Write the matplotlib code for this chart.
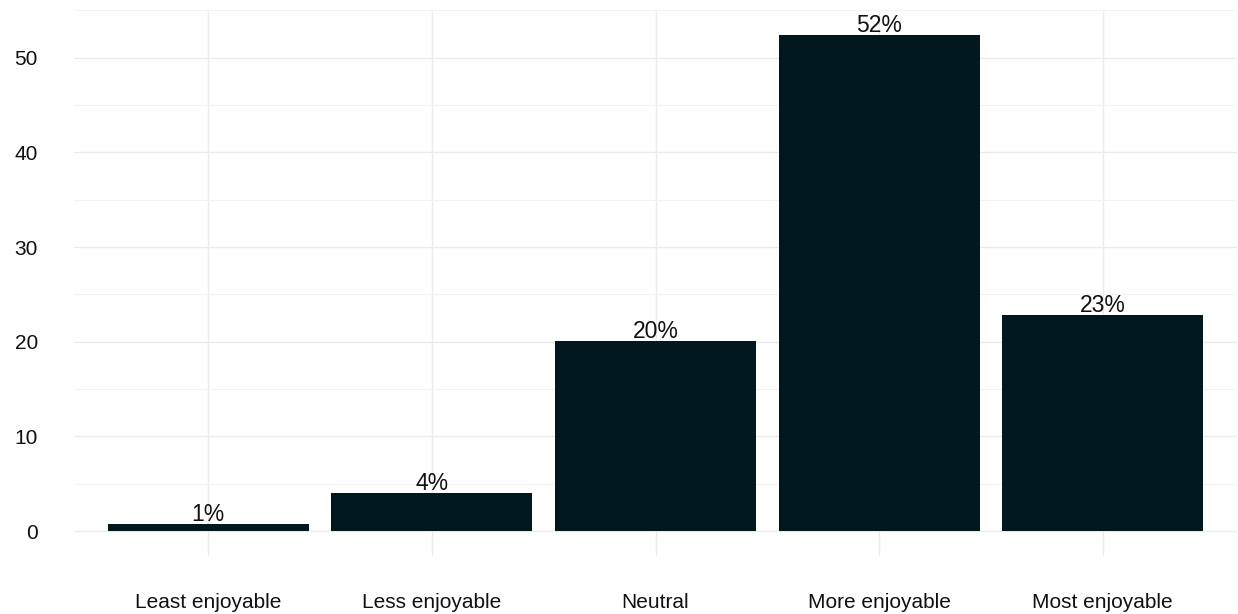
import numpy as np
import matplotlib.pyplot as plt
from matplotlib.ticker import MultipleLocator

categories = ['Least enjoyable', 'Less enjoyable', 'Neutral', 'More enjoyable', 'Most enjoyable']
percent = [0.74, 4.0, 20.1, 52.4, 22.8]
labels = ['1%', '4%', '20%', '52%', '23%']

plt.rcParams['font.family'] = ['Liberation Sans', 'DejaVu Sans']

bar_color = '#02181f'
grid_color = '#ebebeb'
text_color = '#111111'

fig = plt.figure(figsize=(12.38, 6.14), dpi=100)
ax = fig.add_axes([74 / 1238, 58 / 614, 1163 / 1238, 546 / 614])

x = np.arange(len(categories))
ax.bar(x, percent, width=0.9, color=bar_color, zorder=3)

for xi, v, lab in zip(x, percent, labels):
    ax.annotate(lab, xy=(xi, v), xytext=(0, 3), textcoords='offset pixels',
                ha='center', va='baseline', fontsize=16.5, color=text_color, zorder=4)

# ggplot style expansion
ymax = max(percent)
ax.set_ylim(-0.05 * ymax, ymax * 1.05)
ax.set_xlim(-0.6, len(categories) - 1 + 0.6)

ax.set_xticks(x)
ax.set_xticklabels(categories)
ax.yaxis.set_major_locator(MultipleLocator(10))
ax.yaxis.set_minor_locator(MultipleLocator(5))

ax.grid(which='major', axis='both', color=grid_color, linewidth=1.0, zorder=0)
ax.grid(which='minor', axis='y', color='#f3f3f3', linewidth=0.8, zorder=0)

ax.tick_params(axis='both', which='both', length=0, labelsize=15, labelcolor=text_color)
ax.tick_params(axis='y', pad=26)
ax.tick_params(axis='x', pad=27)

for spine in ax.spines.values():
    spine.set_visible(False)

fig.savefig('out.png', dpi=100)
